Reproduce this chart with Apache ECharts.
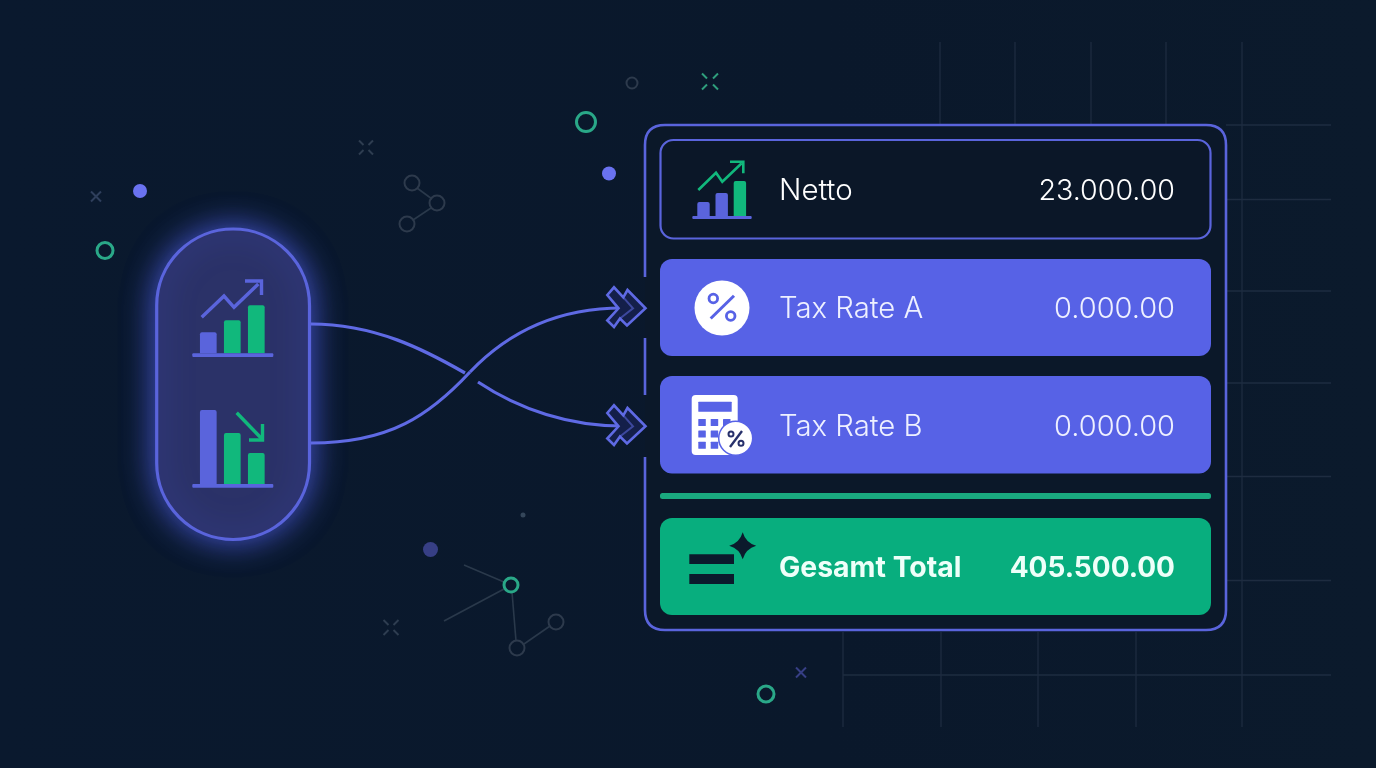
<!DOCTYPE html>
<html lang="de">

<head>
    <meta charset="UTF-8">
    <title>Netto Gesamt</title>
    <script src="https://cdn.jsdelivr.net/npm/echarts@6/dist/echarts.min.js"></script>
    <style>
        html,
        body {
            margin: 0;
            padding: 0;
            background: #0a192d;
        }

        #main {
            width: 1376px;
            height: 768px;
        }
    </style>
</head>

<body>
    <div id="main"></div>
    <script type="text/javascript">
        // rows of the panel
        const rowLabels = ['Netto', 'Tax Rate A', 'Tax Rate B', 'Gesamt Total'];
        const rowValues = ['23.000.00', '0.000.00', '0.000.00', '405.500.00'];

        // small bar icons
        const barCategories = ['a', 'b', 'c'];
        const risingBars = [21, 33, 48];
        const fallingBars = [74, 51, 31];
        const nettoBars = [14, 23, 35];

        // crossing connectors as bezier runs: [x0, y0, c1x, c1y, c2x, c2y, x1, y1]
        const connectorDown = [[311, 324, 375, 324, 425, 350, 465, 373], [478, 382, 520, 410, 570, 426, 622, 426]];
        const connectorUp = [[311, 443, 390, 443, 430, 415, 470, 372], [470, 372, 510, 330, 560, 308, 622, 308]];

        // faint background grid: [x1, y1, x2, y2]
        const gridSegments = [
            [940, 42, 940, 124], [1015, 42, 1015, 124], [1091, 42, 1091, 124], [1166, 42, 1166, 124], [1242, 42, 1242, 727],
            [1226, 125, 1331, 125], [1226, 199.5, 1331, 199.5], [1226, 291, 1331, 291], [1226, 383, 1331, 383],
            [1226, 476.5, 1331, 476.5], [1226, 580.5, 1331, 580.5], [843, 675, 1331, 675],
            [843, 632, 843, 727], [941, 632, 941, 727], [1038, 632, 1038, 727], [1136, 632, 1136, 727]
        ];

        // decoration: [x, y, r]
        const greenRings = [[105, 250.5, 8], [586, 122, 9.5], [766, 694, 8], [511, 585, 7]];
        const greyRings = [[632, 83, 5.5], [412, 183, 7.5], [437, 203, 7.5], [407, 224, 7.5], [517, 648, 7.5], [556, 622, 7.5]];
        const dots = [[140, 191, 7, '#6a72f0'], [609, 173.5, 7, '#6a72f0'], [430.5, 549.5, 7.5, '#373f85'], [523, 515, 2.5, '#34465a']];
        const greyLinks = [[417, 188, 432, 199], [431, 208, 413, 220], [464, 565, 504, 582], [444, 621, 504, 589], [512, 592, 516, 641], [524, 644, 550, 626]];
        const crosses = [[96, 196.5, 5, 0, '#2f3f5c'], [366, 147.5, 7, 2.5, '#2e3d50'], [710, 81.5, 8, 3, '#2f9f7d'], [391, 627.5, 7.5, 2.5, '#2e3d50'], [801, 672.5, 5, 0, '#373f85']];

        const INDIGO = '#5762e6';
        const STROKE = '#5a64dc';
        const GREEN = '#08ae7e';
        const BAR_GREEN = '#11b87c';
        const NAVY = '#0b1a2c';
        const FONT = 'Inter';

        // a custom series on the full-page grid, coordinates go through the axes
        function overlay(name, data, z, draw) {
            return {
                name: name,
                type: 'custom',
                coordinateSystem: 'cartesian2d',
                xAxisIndex: 0,
                yAxisIndex: 0,
                silent: true,
                clip: false,
                z: z,
                data: data.map((d, i) => [i, 0]),
                encode: { x: 0, y: 1 },
                renderItem: function (params, api) {
                    return draw(data[params.dataIndex], (x, y) => api.coord([x, y]), params.dataIndex);
                }
            };
        }

        function rrect(P, x1, y1, x2, y2, r, style) {
            const a = P(x1, y1), b = P(x2, y2);
            return { type: 'rect', shape: { x: a[0], y: a[1], width: b[0] - a[0], height: b[1] - a[1], r: r }, style: style };
        }
        function poly(P, pts, style) {
            return { type: 'polyline', shape: { points: pts.map(p => P(p[0], p[1])) }, style: Object.assign({ fill: 'none', lineJoin: 'miter' }, style) };
        }
        function ring(P, x, y, r, style) {
            const a = P(x, y);
            return { type: 'circle', shape: { cx: a[0], cy: a[1], r: r }, style: style };
        }
        function group(children) {
            return { type: 'group', children: children };
        }

        function barSeries(name, values, grid, colors, width) {
            return {
                name: name,
                type: 'bar',
                xAxisIndex: grid,
                yAxisIndex: grid,
                barWidth: width,
                z: 6,
                silent: true,
                data: values.map((v, i) => ({ value: v, itemStyle: { color: colors[i], borderRadius: [2, 2, 0, 0] } }))
            };
        }

        function curveSeries(name, runs) {
            return overlay(name, runs, 3, (b, P) => {
                const p0 = P(b[0], b[1]), c1 = P(b[2], b[3]), c2 = P(b[4], b[5]), p1 = P(b[6], b[7]);
                return {
                    type: 'bezierCurve',
                    shape: { x1: p0[0], y1: p0[1], cpx1: c1[0], cpy1: c1[1], cpx2: c2[0], cpy2: c2[1], x2: p1[0], y2: p1[1] },
                    style: { fill: 'none', stroke: '#5f6ae4', lineWidth: 3.2 }
                };
            });
        }

        const rowTextY = [191.5, 309, 427, 568.5];
        const labelSize = [29.5, 29.3, 29.3, 28.4];
        const valueSize = [28.6, 29, 29, 28];
        const rowTextStyle = [
            { fill: '#ffffff', fontWeight: 300 },
            { fill: '#eef0ff', fontWeight: 300 },
            { fill: '#eef0ff', fontWeight: 300 },
            { fill: '#eefff9', fontWeight: 700 }
        ];

        const hiddenCat = i => ({ type: 'category', gridIndex: i, show: false, data: barCategories });
        const hiddenVal = (i, max) => ({ type: 'value', gridIndex: i, show: false, min: 0, max: max });

        let option = {
            animation: false,
            backgroundColor: {
                type: 'linear', x: 0, y: 0, x2: 1, y2: 0,
                colorStops: [{ offset: 0, color: '#0a192e' }, { offset: 0.6, color: '#0a182b' }, { offset: 1, color: '#0b1a2c' }]
            },
            grid: [
                { left: 0, top: 0, width: 1376, height: 768 },
                { left: 196.3, top: 273.3, width: 72, height: 80 },
                { left: 196.3, top: 404, width: 72, height: 80 },
                { left: 694.4, top: 176, width: 54.6, height: 40 }
            ],
            xAxis: [
                { type: 'value', gridIndex: 0, show: false, min: 0, max: 1376 },
                hiddenCat(1), hiddenCat(2), hiddenCat(3)
            ],
            yAxis: [
                { type: 'value', gridIndex: 0, show: false, min: 0, max: 768, inverse: true },
                hiddenVal(1, 80), hiddenVal(2, 80), hiddenVal(3, 40)
            ],
            series: [
                overlay('grid', gridSegments, 1, (s, P) => poly(P, [[s[0], s[1]], [s[2], s[3]]], { stroke: '#1e2c40', lineWidth: 1.3 })),
                overlay('links', greyLinks, 1, (s, P) => poly(P, [[s[0], s[1]], [s[2], s[3]]], { stroke: '#2a394b', lineWidth: 1.6 })),
                overlay('greyRings', greyRings, 1, (c, P) => ring(P, c[0], c[1], c[2], { fill: 'none', stroke: '#2d3a4c', lineWidth: 2 })),
                overlay('greenRings', greenRings, 1, (c, P) => ring(P, c[0], c[1], c[2], { fill: 'none', stroke: '#2aa888', lineWidth: 3 })),
                overlay('dots', dots, 1, (c, P) => ring(P, c[0], c[1], c[2], { fill: c[3] })),
                overlay('crosses', crosses, 1, (c, P) => {
                    const r = c[2], g = c[3];
                    const arm = (sx, sy) => poly(P, [[c[0] + sx * g, c[1] + sy * g], [c[0] + sx * r, c[1] + sy * r]], { stroke: c[4], lineWidth: 2 });
                    return group([arm(1, 1), arm(1, -1), arm(-1, 1), arm(-1, -1)]);
                }),

                // glowing pill on the left
                overlay('pill', [0], 2, (d, P) => rrect(P, 156.7, 229, 309.5, 539.5, 76.4, {
                    fill: '#2b3268', stroke: STROKE, lineWidth: 3.2,
                    shadowBlur: 32, shadowColor: 'rgba(84,97,240,0.85)'
                })),
                overlay('iconStrokes', [0], 7, (d, P) => group([
                    poly(P, [[201.7, 317.3], [224, 296], [234, 307.3], [258.3, 284]], { stroke: STROKE, lineWidth: 3.4 }),
                    poly(P, [[245, 281], [261.5, 281], [261.5, 295]], { stroke: STROKE, lineWidth: 3.4 }),
                    poly(P, [[236.7, 412.7], [262, 439]], { stroke: BAR_GREEN, lineWidth: 3.4 }),
                    poly(P, [[262.5, 424], [262.5, 440], [249, 440]], { stroke: BAR_GREEN, lineWidth: 3.4 }),
                    poly(P, [[698.3, 190], [716, 172.7], [722.3, 181.7], [741.7, 163.3]], { stroke: BAR_GREEN, lineWidth: 2.6 }),
                    poly(P, [[730, 161.7], [743.3, 161.7], [743.3, 173.3]], { stroke: BAR_GREEN, lineWidth: 2.6 }),
                    rrect(P, 192.3, 353.3, 273.3, 357, 1, { fill: STROKE }),
                    rrect(P, 192.3, 484, 273.3, 487.7, 1, { fill: STROKE }),
                    rrect(P, 692.3, 216, 751.7, 219, 1, { fill: STROKE })
                ])),
                barSeries('rising', risingBars, 1, [STROKE, BAR_GREEN, BAR_GREEN], 16.7),
                barSeries('falling', fallingBars, 2, [STROKE, BAR_GREEN, BAR_GREEN], 16.7),
                barSeries('netto', nettoBars, 3, [STROKE, STROKE, BAR_GREEN], 12.4),

                curveSeries('down', connectorDown),
                curveSeries('up', connectorUp),

                // double chevrons in the gaps of the panel frame
                overlay('chevrons', [0, 118], 4, (dy, P) => {
                    const pts = [[607.3, 295], [614, 287.3], [623.3, 297.3], [627.5, 290], [645.5, 308.3], [627, 325.5], [620, 318.5], [614, 327], [607.3, 320.5], [618.5, 308.3]];
                    return group([
                        { type: 'polygon', shape: { points: pts.map(p => P(p[0], p[1] + dy)) }, style: { fill: '#141f4a', stroke: '#5f6ae4', lineWidth: 2.6, lineJoin: 'miter' } },
                        poly(P, [[623.3, 297.3 + dy], [633, 308.3 + dy], [620, 318.5 + dy]], { stroke: '#5f6ae4', lineWidth: 2, opacity: 0.55 })
                    ]);
                }),

                // panel
                overlay('panelFill', [0], 2, (d, P) => rrect(P, 645, 125, 1226, 630, 20, { fill: '#0b1829' })),
                overlay('panelFrame', [0], 3, (d, P) => {
                    const r = 20, l = 645, t = 125, b = 630, rgt = 1226;
                    const a = P(l, t), c = P(rgt, b);
                    const y1 = P(0, 277)[1], y2 = P(0, 338)[1], y3 = P(0, 395)[1], y4 = P(0, 457)[1];
                    return {
                        type: 'path',
                        shape: {
                            pathData: 'M' + a[0] + ' ' + y1 + 'V' + (a[1] + r) + 'Q' + a[0] + ' ' + a[1] + ' ' + (a[0] + r) + ' ' + a[1] +
                                'H' + (c[0] - r) + 'Q' + c[0] + ' ' + a[1] + ' ' + c[0] + ' ' + (a[1] + r) +
                                'V' + (c[1] - r) + 'Q' + c[0] + ' ' + c[1] + ' ' + (c[0] - r) + ' ' + c[1] +
                                'H' + (a[0] + r) + 'Q' + a[0] + ' ' + c[1] + ' ' + a[0] + ' ' + (c[1] - r) + 'V' + y4 +
                                'M' + a[0] + ' ' + y3 + 'V' + y2,
                            x: a[0], y: a[1], width: c[0] - a[0], height: c[1] - a[1]
                        },
                        style: { fill: 'none', stroke: STROKE, lineWidth: 2.6 }
                    };
                }),
                overlay('rows', [0], 3, (d, P) => group([
                    rrect(P, 660.5, 140, 1210.5, 238.5, 13, { fill: '#0b1728', stroke: STROKE, lineWidth: 2.2 }),
                    rrect(P, 660, 259, 1211, 356, 12, { fill: INDIGO }),
                    rrect(P, 660, 376, 1211, 473.5, 12, { fill: INDIGO }),
                    rrect(P, 660, 493, 1211, 499, 2.5, { fill: '#1aa97f' }),
                    rrect(P, 660, 518, 1211, 615, 12, { fill: GREEN })
                ])),

                // percent badge
                overlay('percent', [0], 5, (d, P) => group([
                    ring(P, 722, 308, 27.5, { fill: '#ffffff' }),
                    poly(P, [[710.7, 318.5], [734, 295.7]], { stroke: INDIGO, lineWidth: 3 }),
                    ring(P, 713.3, 298.5, 4.3, { fill: 'none', stroke: INDIGO, lineWidth: 2.8 }),
                    ring(P, 730.7, 316, 4.3, { fill: 'none', stroke: INDIGO, lineWidth: 2.8 })
                ])),

                // calculator
                overlay('calc', [0], 5, (d, P) => {
                    const keys = [];
                    [698.3, 710.7, 723].forEach(x => [419, 430.5, 441.7].forEach(y => {
                        keys.push(rrect(P, x, y, x + 7.5, y + 7, 0.5, { fill: INDIGO }));
                    }));
                    return group([
                        rrect(P, 691.7, 395, 737.7, 455, 4, { fill: '#ffffff' }),
                        rrect(P, 698.3, 401.7, 731.7, 411.7, 0.5, { fill: INDIGO })
                    ].concat(keys, [
                        ring(P, 735.7, 438.3, 17, { fill: '#ffffff', stroke: INDIGO, lineWidth: 1.5 }),
                        poly(P, [[730, 447], [742, 431]], { stroke: '#27306b', lineWidth: 2.4 }),
                        ring(P, 731, 434, 2.5, { fill: 'none', stroke: '#27306b', lineWidth: 2 }),
                        ring(P, 741, 443.3, 2.5, { fill: 'none', stroke: '#27306b', lineWidth: 2 })
                    ]));
                }),

                // sum bars with sparkle
                overlay('sum', [0], 5, (d, P) => {
                    const c = P(742.7, 545.7), r = 13.5, k = 3;
                    const pt = (dx, dy) => (c[0] + dx) + ' ' + (c[1] + dy);
                    return group([
                        rrect(P, 689.3, 554.3, 734, 564, 0, { fill: NAVY }),
                        rrect(P, 689.3, 574, 734, 584, 0, { fill: NAVY }),
                        {
                            type: 'path',
                            shape: {
                                pathData: 'M' + pt(0, -r) + 'Q' + pt(k, -k) + ' ' + pt(r, 0) + 'Q' + pt(k, k) + ' ' + pt(0, r) +
                                    'Q' + pt(-k, k) + ' ' + pt(-r, 0) + 'Q' + pt(-k, -k) + ' ' + pt(0, -r) + 'Z',
                                x: c[0] - r, y: c[1] - r, width: 2 * r, height: 2 * r
                            },
                            style: { fill: NAVY }
                        }
                    ]);
                }),

                // row texts
                overlay('labels', rowLabels, 8, (t, P, i) => {
                    const a = P(779, rowTextY[i]);
                    return { type: 'text', style: { text: t, x: a[0], y: a[1], align: 'left', verticalAlign: 'middle', fontFamily: FONT, fontSize: labelSize[i], fontWeight: rowTextStyle[i].fontWeight, fill: rowTextStyle[i].fill } };
                }),
                overlay('values', rowValues, 8, (t, P, i) => {
                    const a = P(1175, rowTextY[i]);
                    return { type: 'text', style: { text: t, x: a[0], y: a[1], align: 'right', verticalAlign: 'middle', fontFamily: FONT, fontSize: valueSize[i], fontWeight: rowTextStyle[i].fontWeight, fill: rowTextStyle[i].fill } };
                })
            ]
        };

        let chart = echarts.init(document.getElementById('main'));
        chart.setOption(option);
    </script>
</body>

</html>
